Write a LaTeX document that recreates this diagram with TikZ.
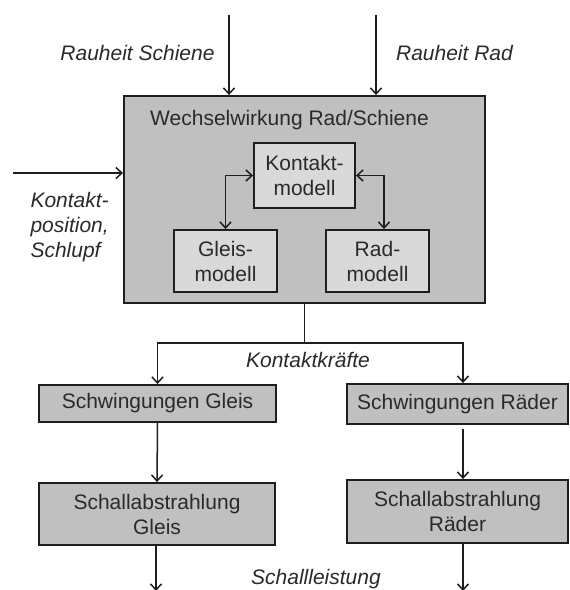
\documentclass[tikz,border=0pt]{standalone}
\usepackage{fontspec}
\setmainfont{Liberation Sans}
\usetikzlibrary{arrows.meta}
\definecolor{boxgray}{HTML}{C0C0C0}
\definecolor{innergray}{HTML}{D9D9D9}
\definecolor{linec}{HTML}{1E1E1E}
\definecolor{textc}{HTML}{2A2A2A}
\begin{document}
\begin{tikzpicture}[x=1pt,y=-1pt,
  every node/.style={font=\fontsize{21}{25}\selectfont, text=textc},
  box/.style={draw=linec, line width=1.9pt, fill=boxgray, inner sep=0pt, align=center},
  inbox/.style={box, fill=innergray},
  lab/.style={font=\fontsize{21}{25}\selectfont\itshape, text=textc},
  arr/.style={-{Straight Barb[length=6pt,width=11pt]}, line width=1.5pt, draw=linec},
  darr/.style={{Straight Barb[length=6pt,width=11pt]}-{Straight Barb[length=6pt,width=11pt]}, line width=1.5pt, draw=linec},
  ln/.style={line width=1.5pt, draw=linec}]
\useasboundingbox (0,0) rectangle (570,590);

% boxes
\node[box, minimum width=361pt, minimum height=207pt] (main) at (304.5,199.5) {};
\node (title) at (289.5,120) {Wechselwirkung Rad/Schiene};
\node[inbox, minimum width=101pt, minimum height=65pt] (km) at (304.5,175.5) {Kontakt-\\modell};
\node[inbox, minimum width=103pt, minimum height=62pt] (gm) at (225.5,261) {Gleis-\\modell};
\node[inbox, minimum width=103pt, minimum height=62pt] (rm) at (377.5,261) {Rad-\\modell};

\node[box, minimum width=237pt, minimum height=37pt] (sg) at (157.5,403.5) {Schwingungen Gleis};
\node[box, minimum width=221pt, minimum height=40pt] (sr) at (457.5,404) {Schwingungen Räder};
\node[box, minimum width=236pt, minimum height=62pt] (ag) at (157,514) {Schallabstrahlung\\Gleis};
\node[box, minimum width=221pt, minimum height=63pt] (ar) at (457.5,511.5) {Schallabstrahlung\\Räder};

% labels
\node[lab] (lrs) at (137.5,53) {Rauheit Schiene};
\node[lab] (lrr) at (454.5,53) {Rauheit Rad};
\node[lab, align=left, anchor=west] (lkp) at (27,227) {Kontakt-\\position,\\Schlupf};
\node[lab] (lkk) at (308,360) {Kontaktkräfte};
\node[lab] (lsl) at (316,579.5) {Schallleistung};

% input arrows
\coordinate (rsin) at (229,15);
\coordinate (rrin) at (376,15);
\coordinate (kin) at (13,173);
\draw[arr] (rsin) -- (rsin |- main.north);
\draw[arr] (rrin) -- (rrin |- main.north);
\draw[arr] (kin) -- (kin -| main.west);

% inner coupling
\draw[darr] (gm.north) |- (km.west);
\draw[darr] (km.east) -| ([xshift=6.5pt]rm.north);

% outputs
\coordinate (split) at (304.5,343);
\draw[ln] (main.south) -- (split);
\draw[arr] (split) -| (sg.north);
\draw[arr] (split) -| ([xshift=5.5pt]sr.north);
\draw[arr] (sg.south) -- (ag.north);
\draw[arr, shorten <=4pt] ([xshift=5.5pt]sr.south) -- ([xshift=5.5pt]ar.north);
\coordinate (og) at (156,591);
\coordinate (or) at (463,591);
\draw[arr] (ag.south -| og) -- (og);
\draw[arr] (ar.south -| or) -- (or);
\end{tikzpicture}
\end{document}
